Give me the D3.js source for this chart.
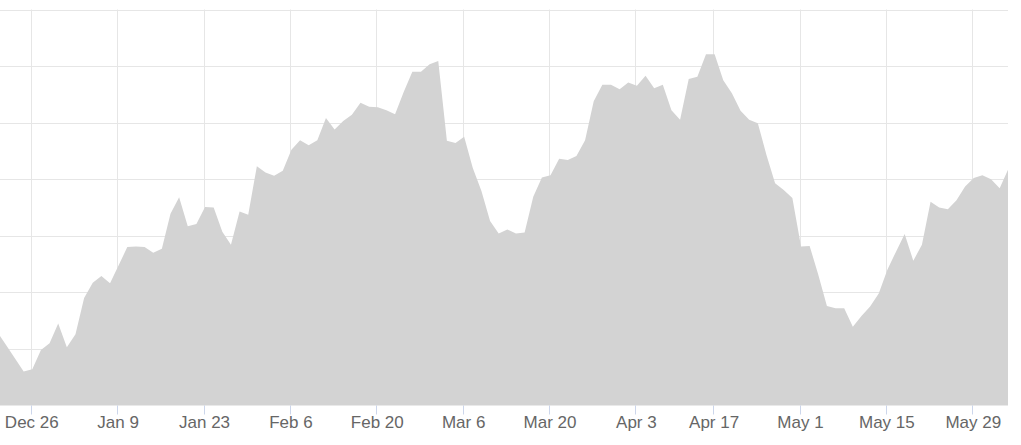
<!DOCTYPE html>
<html><head><meta charset="utf-8">
<script src="https://cdn.jsdelivr.net/npm/d3@7"></script>
<style>html,body{margin:0;padding:0;background:#fff;overflow:hidden}</style>
</head><body><svg id="c" width="1021" height="445"></svg>
<script>
// ---- data ----
const startDate = "2016-12-20";
const closedDays = ["2017-04-14"];
const values = [
  72.9, 70.6, 68.3, 66.0,
  66.4, 69.8, 71.0, 74.5, 70.3, 72.6, 79.0, 81.7, 82.9, 81.6,
  84.8, 88.0, 88.1, 88.0, 87.0, 87.7, 93.9, 96.8, 91.7, 92.1,
  95.1, 95.0, 90.7, 88.4, 94.3, 93.7, 102.3, 101.2, 100.6, 101.5,
  105.2, 106.9, 106.0, 106.9, 110.8, 108.8, 110.3, 111.4, 113.5, 112.8,
  112.7, 112.2, 111.5, 115.4, 119.0, 119.0, 120.3, 120.9, 106.8, 106.4,
  107.5, 102.0, 97.9, 92.6, 90.4, 91.1, 90.4, 90.6, 96.9, 100.3,
  100.7, 103.6, 103.4, 104.1, 106.9, 113.8, 116.7, 116.7, 115.9, 117.1,
  116.5, 118.3, 116.1, 116.7, 112.2, 110.5, 117.7, 118.1, 122.1, 122.1,
  117.5, 115.2, 112.1, 110.5, 109.9, 104.3, 99.3, 98.1, 96.7, 88.1,
  88.2, 83.1, 77.6, 77.2, 77.2, 73.9, 75.8, 77.5, 79.8, 84.0,
  87.2, 90.3, 85.6, 88.4, 96.0, 95.0, 94.7, 96.3, 98.7, 100.2,
  100.7, 100.0, 98.4, 101.8
];
const tickDates = ["2016-12-26","2017-01-09","2017-01-23","2017-02-06","2017-02-20","2017-03-06",
                   "2017-03-20","2017-04-03","2017-04-17","2017-05-01","2017-05-15","2017-05-29"];
const tickLabels = ["Dec 26","Jan 9","Jan 23","Feb 6","Feb 20","Mar 6",
                    "Mar 20","Apr 3","Apr 17","May 1","May 15","May 29"];
const yTicks = [60, 70, 80, 90, 100, 110, 120, 130];

// ---- trading-day calendar ----
const parse = d3.utcParse("%Y-%m-%d"), fmt = d3.utcFormat("%Y-%m-%d");
const dates = [];
let d = parse(startDate);
while (dates.length < values.length) {
  const wd = d.getUTCDay();
  if (wd !== 0 && wd !== 6 && !closedDays.includes(fmt(d))) dates.push(fmt(d));
  d = d3.utcDay.offset(d, 1);
}

// ---- layout ----
const W = 1021, H = 445;
const plot = {left: 0, right: 1008, top: 9.5, bottom: 405.5};
const svg = d3.select("#c");

const x = d3.scaleLinear().domain([0, values.length - 1]).range([-2.25, 1008.3]);
const y = d3.scaleLinear().domain([60, 130]).range([plot.bottom, plot.top]);

svg.append("defs").append("clipPath").attr("id", "clip")
  .append("rect").attr("x", plot.left).attr("y", 0)
  .attr("width", plot.right - plot.left).attr("height", plot.bottom + 0.5);

const tickIdx = tickDates.map(t => dates.indexOf(t));
const crispX = i => Math.floor(x(i)) - 0.5;
const crispY = v => Math.round(y(v)) + 0.5;

// gridlines
const grid = svg.append("g");
grid.selectAll("line.h").data(yTicks.slice(1)).join("line")
  .attr("x1", plot.left).attr("x2", plot.right)
  .attr("y1", v => crispY(v) - (v === 130 ? 0 : 0)).attr("y2", v => crispY(v))
  .attr("stroke", "#e6e6e6").attr("stroke-width", 1);
grid.selectAll("line.v").data(tickIdx).join("line")
  .attr("x1", crispX).attr("x2", crispX)
  .attr("y1", plot.top).attr("y2", plot.bottom)
  .attr("stroke", "#e6e6e6").attr("stroke-width", 1);

// area
const area = d3.area()
  .x((v, i) => x(i))
  .y0(y(60))
  .y1(v => y(v));
svg.append("path").datum(values)
  .attr("clip-path", "url(#clip)")
  .attr("d", area)
  .attr("fill", "#d3d3d3");

// x axis ticks and labels
const ax = svg.append("g");
ax.selectAll("line").data(tickIdx).join("line")
  .attr("x1", crispX).attr("x2", crispX)
  .attr("y1", plot.bottom).attr("y2", plot.bottom + 9)
  .attr("stroke", "#ccd6eb").attr("stroke-width", 1);
ax.selectAll("text").data(tickIdx).join("text")
  .attr("x", i => x(i) - 0.5)
  .attr("y", 427.5)
  .attr("text-anchor", "middle")
  .attr("font-family", "'Liberation Sans', Arial, sans-serif")
  .attr("font-size", 17)
  .attr("fill", "#666666")
  .text((i, k) => tickLabels[k]);
</script>
</body></html>
